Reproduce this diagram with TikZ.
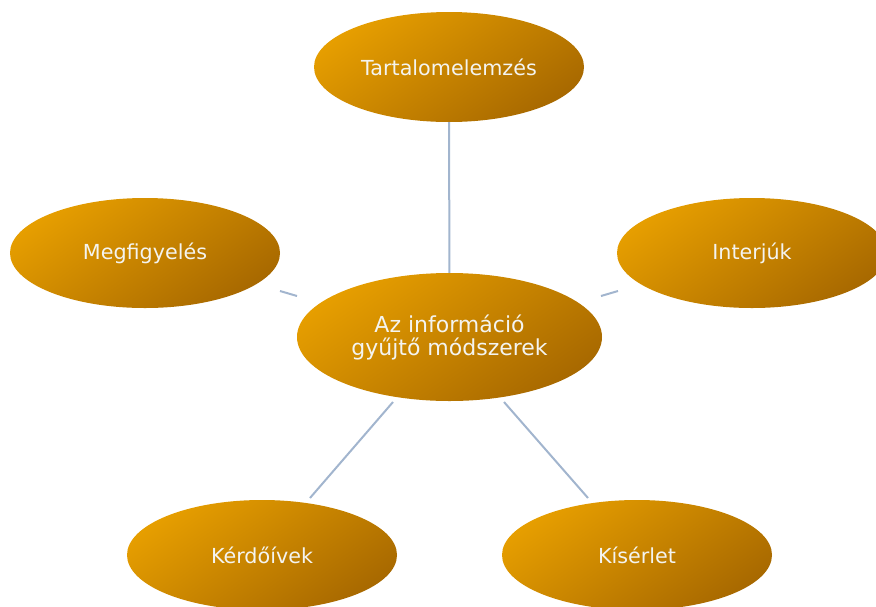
\documentclass[tikz,border=0pt]{standalone}
\usepackage{fontspec}
\setmainfont{DejaVu Sans}
\usetikzlibrary{shapes.geometric}
\definecolor{orL}{HTML}{E69E00}
\definecolor{orD}{HTML}{A86900}
\definecolor{lineC}{HTML}{A2B5CE}
\definecolor{txt}{HTML}{F4F4F0}
\begin{document}
\begin{tikzpicture}[x=1pt,y=-1pt,
  bubble/.style={ellipse, minimum width=270pt, minimum height=110pt, inner sep=0pt,
    top color=orL, bottom color=orD, shading angle=35, text=txt,
    font=\fontsize{20.7}{24}\selectfont, align=center},
  hub/.style={bubble, minimum width=305pt, minimum height=128pt,
    font=\fontsize{22}{23}\selectfont},
  link/.style={draw=lineC, line width=2pt}]
\useasboundingbox (0,0) rectangle (876,606);
\node[hub] (c) at (449.5,337) {Az információ\\gyűjtő módszerek};
\node[bubble] (t) at (449,67) {Tartalomelemzés};
\node[bubble] (l) at (145,253) {Megfigyelés};
\node[bubble] (r) at (752,253) {Interjúk};
\node[bubble] (bl) at (262,555) {Kérdőívek};
\node[bubble] (br) at (637,555) {Kísérlet};
\coordinate (lA) at (280,291);
\coordinate (lB) at (297,296);
\coordinate (rA) at (618,291);
\coordinate (rB) at (601,296);
\coordinate (blA) at (393,402);
\coordinate (blB) at (310,498);
\coordinate (brA) at (504,402);
\coordinate (brB) at (588,498);
\draw[link] (c) -- (t);
\draw[link] (lB) -- (lA);
\draw[link] (rB) -- (rA);
\draw[link] (blA) -- (blB);
\draw[link] (brA) -- (brB);
\end{tikzpicture}
\end{document}
